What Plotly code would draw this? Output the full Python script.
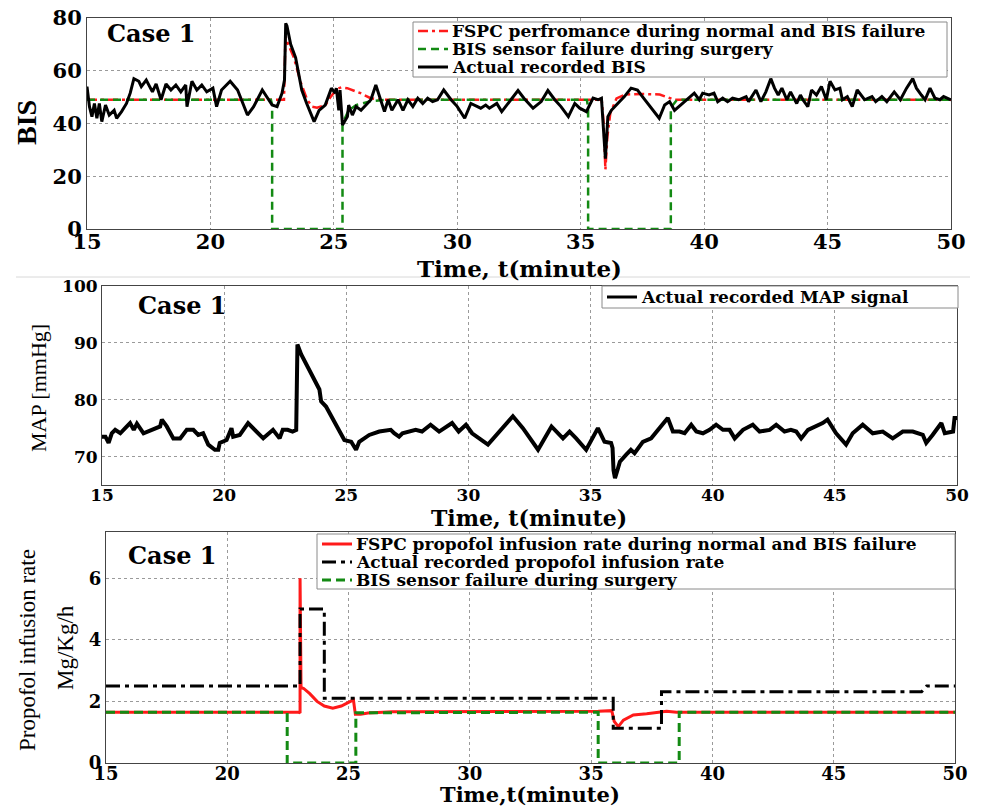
import plotly.graph_objects as go

# ---------------- data ----------------
bis_t = [15.0, 15.1, 15.2, 15.3, 15.4, 15.5, 15.6, 15.75, 15.9, 16.1, 16.2, 16.4, 16.6, 16.75, 16.9, 17.1, 17.2, 17.4,
         17.65, 17.8, 18.0, 18.2, 18.4, 18.6, 18.8, 19.0, 19.05, 19.25, 19.45, 19.65, 19.85, 20.1, 20.25, 20.45, 20.8,
         21.1, 21.5, 21.75, 22.1, 22.5, 22.7, 22.9, 23.0, 23.05, 23.1, 23.25, 23.45, 23.7, 23.9, 24.2, 24.4, 24.65,
         24.9, 25.05, 25.1, 25.2, 25.25, 25.35, 25.55, 25.6, 25.75, 25.9, 26.1, 26.35, 26.5, 26.7, 26.9, 27.05, 27.2,
         27.35, 27.6, 27.8, 28.0, 28.2, 28.4, 28.6, 28.8, 29.0, 29.2, 29.45, 29.75, 30.0, 30.3, 30.55, 30.95, 31.15,
         31.3, 31.6, 31.8, 32.1, 32.46, 32.7, 33.07, 33.4, 33.67, 33.95, 34.2, 34.5, 34.76, 34.96, 35.23, 35.5, 35.7,
         35.84, 35.97, 36.0, 36.1, 36.24, 36.5, 36.77, 37.04, 37.3, 37.5, 37.78, 38.05, 38.18, 38.4, 38.6, 38.8, 39.05,
         39.3, 39.6, 39.8, 39.94, 40.2, 40.4, 40.55, 40.75, 40.95, 41.15, 41.4, 41.7, 41.8, 42.1, 42.3, 42.5, 42.7,
         42.85, 43.0, 43.15, 43.35, 43.5, 43.6, 43.75, 43.9, 44.0, 44.2, 44.35, 44.55, 44.75, 44.95, 45.1, 45.3, 45.5,
         45.6, 45.8, 46.0, 46.2, 46.5, 46.8, 46.95, 47.2, 47.4, 47.7, 47.95, 48.2, 48.45, 48.6, 48.8, 48.95, 49.15,
         49.35, 49.55, 49.7, 50.0]
bis_v = [54, 46.4, 42.6, 47.6, 42, 47.6, 40.7, 47, 43.2, 45, 42, 44.5, 47.6, 51.5, 57, 56, 54, 56.5,
         52, 55, 49, 55, 52.7, 54.6, 52, 54.6, 46.4, 56, 52.7, 54.6, 52, 53.4, 46.4, 52.7, 56,
         52.7, 43.2, 46.4, 52.7, 47, 46.4, 51.5, 56.5, 78, 77, 70, 65, 52.7, 47.6, 40.7, 45, 47,
         53.4, 51.5, 53.4, 45, 52.7, 39.4, 42.6, 47, 43.2, 46.4, 45, 47.6, 49, 54.6, 49, 44.5, 49,
         45, 49, 45, 49, 46.4, 49.6, 47.6, 49.6, 48.3, 49, 52.7, 49, 46.4, 42, 47.6, 45.8, 47,
         45.8, 47.6, 44.5, 48.3, 52.5, 49.6, 45.8, 48.3, 52.5, 49, 46.4, 42.6, 47.6, 45.8, 44.5, 49.6, 49,
         49.6, 33.7, 26.7, 42.6, 45, 47.6, 50.2, 53.4, 52.7, 50.2, 47, 43.9, 42, 47, 48.3, 45, 47,
         49, 51.5, 49, 51.5, 50.8, 51.5, 48.3, 49.6, 48.3, 49.6, 49, 50.2, 48.3, 52.7, 48.3, 52, 57,
         53.4, 50.8, 53.4, 49, 52, 50.2, 47.6, 50.8, 49, 46.4, 52.7, 50.8, 54, 49, 56, 52.7, 53.4,
         49, 50.2, 46.4, 52.7, 49, 50.2, 48.3, 50.2, 48.3, 52, 49, 53.4, 57, 53.4, 50.8, 49, 53.4,
         49.6, 49, 50.2, 49]

fspc_bis_t = [15, 22.98, 23.04, 23.15, 23.38, 23.65, 23.92, 24.12, 24.32, 24.66, 24.86, 25.14, 25.3, 25.54,
              26.08, 26.49, 26.9, 35.85, 35.93, 36.0, 36.08, 36.2, 36.45, 36.8, 37.5, 38.2, 38.5, 38.8, 50]
fspc_bis_v = [49, 49, 73, 70, 65, 55.8, 49, 46.4, 46, 47, 50, 53.2, 53.7, 53.4,
              51.5, 49.6, 49, 49, 40, 22.5, 35, 44, 49.5, 51, 51.2, 51, 50, 49, 49]

fail_bis_t = [15, 22.45, 22.5, 22.5, 25.35, 25.35, 25.6, 25.9, 26.5, 27.2, 35.25, 35.3, 35.3, 38.65, 38.65, 38.9, 50]
fail_bis_v = [49, 49, 47, 0, 0, 40, 45, 47, 48.5, 49, 49, 46, 0, 0, 46, 49, 49]

map_t = [15.0, 15.14, 15.27, 15.4, 15.54, 15.75, 15.95, 16.15, 16.3, 16.43, 16.7, 17.38, 17.45, 17.65, 17.92,
         18.2, 18.47, 18.74, 18.94, 19.14, 19.35, 19.62, 19.76, 19.82, 20.1, 20.3, 20.37, 20.64, 20.98, 21.25,
         21.6, 22.0, 22.27, 22.4, 22.6, 22.8, 22.95, 23.0, 23.15, 23.9, 23.97, 24.17, 24.45, 24.92, 25.2, 25.4,
         25.53, 25.94, 26.35, 26.82, 26.96, 27.16, 27.3, 27.84, 28.1, 28.45, 28.8, 29.33, 29.6, 29.9, 30.15,
         30.8, 31.82, 32.23, 32.85, 33.4, 33.87, 34.14, 34.41, 34.82, 35.3, 35.57, 35.84, 35.9, 35.94, 36.0,
         36.1, 36.2, 36.45, 36.65, 36.8, 37.14, 37.48, 37.82, 38.16, 38.37, 38.64, 38.85, 39.12, 39.33, 39.6,
         39.87, 40.14, 40.42, 40.69, 40.9, 41.24, 41.64, 41.92, 42.33, 42.6, 42.94, 43.2, 43.42, 43.62, 43.9,
         44.24, 44.5, 44.7, 45.05, 45.46, 45.73, 46.14, 46.55, 46.96, 47.37, 47.78, 48.19, 48.6, 48.74, 49.0,
         49.36, 49.5, 49.84, 49.9, 50.0]
map_v = [73.5, 73.5, 72.4, 74.1, 74.7, 74.1, 75.0, 75.9, 74.7, 75.8, 74.1, 75.3, 76.5, 75.3, 73.2,
         73.2, 74.7, 74.7, 73.8, 74.1, 72.1, 71.2, 71.2, 72.4, 72.9, 75.0, 73.5, 73.8, 75.9, 74.7,
         73.2, 74.7, 73.2, 74.7, 74.7, 74.4, 74.7, 89.7, 88.0, 81.8, 79.7, 78.8, 76.5, 72.9, 72.6, 71.2,
         72.6, 73.8, 74.4, 74.7, 74.1, 73.5, 74.1, 74.7, 74.4, 75.6, 74.4, 75.9, 74.4, 75.6, 74.1,
         72.1, 77.1, 75.0, 71.2, 75.3, 73.2, 74.4, 73.2, 71.2, 75.0, 72.6, 72.4, 71.5, 67.6, 66.2,
         67.6, 69.1, 70.3, 71.2, 70.6, 72.6, 73.2, 75.0, 76.8, 74.4, 74.4, 74.1, 75.6, 74.4, 74.1,
         74.7, 75.6, 74.7, 74.7, 73.2, 74.7, 75.6, 74.4, 74.7, 75.6, 74.4, 74.7, 74.4, 73.2, 74.7,
         75.3, 75.9, 76.5, 74.1, 72.1, 74.1, 75.6, 74.1, 74.4, 73.2, 74.4, 74.4, 73.8, 72.4, 73.8,
         75.9, 74.1, 74.4, 76.8, 76.8]

fspc_rate_t = [15, 22.95, 23.0, 23.0, 23.04, 23.15, 23.4, 23.7, 24.0, 24.35, 24.7, 25.0, 25.2, 25.28, 25.5,
               25.8, 26.8, 35.29, 35.85, 35.95, 36.12, 36.33, 36.74, 37.29, 38.11, 38.52, 50]
fspc_rate_v = [1.65, 1.65, 1.62, 6.0, 2.45, 2.42, 2.25, 2.0, 1.85, 1.78, 1.85, 1.98, 2.05, 1.58, 1.58,
               1.62, 1.66, 1.68, 1.7, 1.35, 1.18, 1.39, 1.56, 1.6, 1.68, 1.65, 1.65]

actual_rate_t = [15, 23.0, 23.0, 24.0, 24.0, 35.91, 35.91, 37.9, 37.9, 48.62, 48.83, 50]
actual_rate_v = [2.5, 2.5, 5.0, 5.0, 2.1, 2.1, 1.13, 1.13, 2.31, 2.31, 2.5, 2.5]

fail_rate_t = [15, 22.47, 22.47, 25.3, 25.3, 35.29, 35.29, 38.63, 38.63, 50]
fail_rate_v = [1.65, 1.65, 0, 0, 1.63, 1.65, 0, 0, 1.65, 1.65]

x_ticks = [15, 20, 25, 30, 35, 40, 45, 50]

names_top = ["FSPC perfromance during normal and BIS failure",
             "BIS sensor failure during surgery",
             "Actual recorded BIS"]
names_mid = ["Actual recorded MAP signal"]
names_bot = ["FSPC propofol infusion rate during normal and BIS failure",
             "Actual recorded propofol infusion rate",
             "BIS sensor failure during surgery"]

# ---------------- figure ----------------
W, H = 981, 806


def fx(p):
    return p / W


def fy(p):
    return 1 - p / H


SERIF_W = "DejaVu Serif"
TIMES = "Liberation Serif"
RED = "#ff1a1a"
GREEN = "#138a13"

st_red_dd = dict(color=RED, width=2.5, dash="10px,4px,3px,4px")
st_green_top = dict(color=GREEN, width=2.5, dash="8px,5px")
st_black_top = dict(color="black", width=3)
st_black_mid = dict(color="black", width=4)
st_red_bot = dict(color=RED, width=3)
st_black_dd = dict(color="black", width=3, dash="14px,5px,4px,5px")
st_green_bot = dict(color=GREEN, width=3, dash="9px,5px")

fig = go.Figure()

# top panel
fig.add_trace(go.Scatter(x=fspc_bis_t, y=fspc_bis_v, mode="lines", xaxis="x", yaxis="y",
                         line=st_red_dd, name=names_top[0]))
fig.add_trace(go.Scatter(x=fail_bis_t, y=fail_bis_v, mode="lines", xaxis="x", yaxis="y",
                         line=st_green_top, name=names_top[1]))
fig.add_trace(go.Scatter(x=bis_t, y=bis_v, mode="lines", xaxis="x", yaxis="y",
                         line=st_black_top, name=names_top[2]))
# middle panel
fig.add_trace(go.Scatter(x=map_t, y=map_v, mode="lines", xaxis="x2", yaxis="y2",
                         line=st_black_mid, name=names_mid[0]))
# bottom panel
fig.add_trace(go.Scatter(x=fspc_rate_t, y=fspc_rate_v, mode="lines", xaxis="x3", yaxis="y3",
                         line=st_red_bot, name=names_bot[0]))
fig.add_trace(go.Scatter(x=actual_rate_t, y=actual_rate_v, mode="lines", xaxis="x3", yaxis="y3",
                         line=st_black_dd, name=names_bot[1]))
fig.add_trace(go.Scatter(x=fail_rate_t, y=fail_rate_v, mode="lines", xaxis="x3", yaxis="y3",
                         line=st_green_bot, name=names_bot[2]))

axis_common = dict(showline=True, mirror=True, linecolor="#444", linewidth=1, zeroline=False,
                   showgrid=True, gridcolor="#9a9a9a", griddash="dot", gridwidth=1,
                   ticks="", fixedrange=True)


def xaxis(dom, size, anchor, standoff):
    d = dict(axis_common)
    d.update(domain=[fx(dom[0]), fx(dom[1])], range=[15, 50], tickvals=x_ticks, anchor=anchor,
             ticklabelstandoff=standoff,
             tickfont=dict(family=SERIF_W, size=size, color="black", weight="bold"))
    return d


def yaxis(dom, rng, ticks, size, anchor):
    d = dict(axis_common)
    d.update(domain=[fy(dom[1]), fy(dom[0])], range=rng, tickvals=ticks, anchor=anchor,
             tickfont=dict(family=SERIF_W, size=size, color="black", weight="bold"))
    return d


fig.update_layout(
    width=W, height=H, margin=dict(l=0, r=0, t=0, b=0, autoexpand=False),
    paper_bgcolor="white", plot_bgcolor="white", showlegend=False,
    xaxis=xaxis((87, 951), 21, "y", -6),
    yaxis=yaxis((18, 229), [0, 80], [0, 20, 40, 60, 80], 21, "x"),
    xaxis2=xaxis((102, 957), 17, "y2", -5),
    yaxis2=yaxis((286, 485), [65, 100], [70, 80, 90, 100], 17, "x2"),
    xaxis3=xaxis((106, 955), 18, "y3", -6),
    yaxis3=yaxis((532, 763), [0, 7.5], [0, 2, 4, 6], 18, "x3"),
)


def ann(text, x, y, family, size, bold=True, angle=0, xanchor="center"):
    fig.add_annotation(text=text, x=fx(x), y=fy(y), xref="paper", yref="paper", showarrow=False,
                       xanchor=xanchor, yanchor="middle", textangle=angle,
                       font=dict(family=family, size=size, color="black", weight="bold" if bold else "normal"))


# axis titles and panel labels
ann("Time, t(minute)", 519, 268, SERIF_W, 23)
ann("Time, t(minute)", 529, 518, SERIF_W, 22)
ann("Time,t(minute)", 530, 794, SERIF_W, 21)
ann("Case 1", 151, 33, SERIF_W, 24)
ann("Case 1", 182, 305, SERIF_W, 24)
ann("Case 1", 172, 555, SERIF_W, 24)
ann("BIS", 26, 123, TIMES, 28, bold=True, angle=-90)
ann("MAP [mmHg]", 38, 388, TIMES, 22, bold=False, angle=-90)
ann("Propofol infusion rate", 27, 650, TIMES, 23, bold=False, angle=-90)
ann("Mg/Kg/h", 65, 648, TIMES, 23, bold=False, angle=-90)


# legends (boxes with line samples and labels)
def legend_box(x0, y0, x1, y1, rows, styles, names, size):
    fig.add_shape(type="rect", xref="paper", yref="paper", x0=fx(x0), x1=fx(x1), y0=fy(y1), y1=fy(y0),
                  fillcolor="white", line=dict(color="#8a8a8a", width=1), layer="above")
    for yr, stl, nm in zip(rows, styles, names):
        fig.add_shape(type="line", xref="paper", yref="paper", x0=fx(x0 + 5), x1=fx(x0 + 35),
                      y0=fy(yr), y1=fy(yr), line=dict(stl, width=min(stl["width"], 3)), layer="above")
        ann(nm, x0 + 37, yr, SERIF_W, size, xanchor="left")


legend_box(413, 22, 947, 77, [31, 49, 67], [st_red_dd, st_green_top, st_black_top], names_top, 17)
legend_box(602, 286, 958, 308, [297], [st_black_mid], names_mid, 17)
legend_box(317, 534, 955, 589, [544, 562, 580], [st_red_bot, st_black_dd, st_green_bot], names_bot, 17)

fig.add_shape(type="line", xref="paper", yref="paper", x0=fx(16), x1=fx(970), y0=fy(277), y1=fy(277),
              line=dict(color="#d8d8d8", width=1))

fig.write_html("out.html")
